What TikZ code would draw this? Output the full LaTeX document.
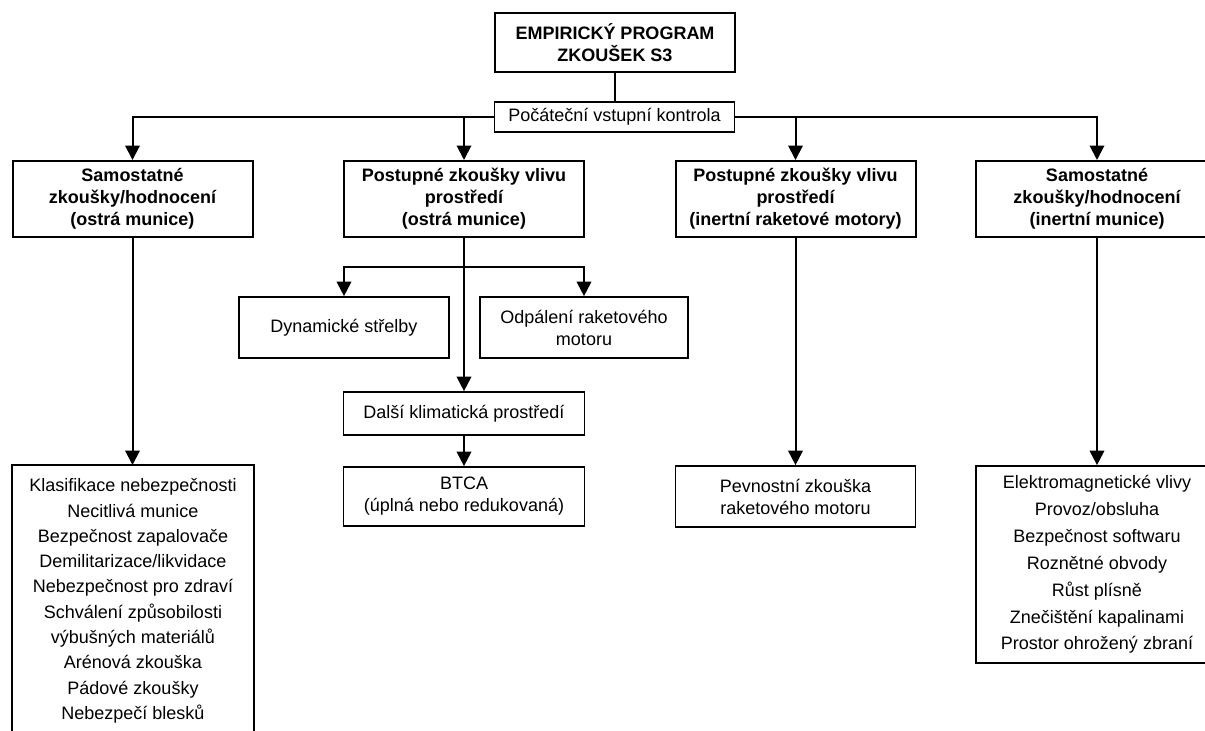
\documentclass[tikz,border=0pt]{standalone}
\usepackage{fontspec}
\setmainfont{Liberation Sans}
\usetikzlibrary{arrows.meta}
\begin{document}
\begin{tikzpicture}[x=1pt,y=-1pt,
  box/.style={draw, line width=1.7pt, align=center, inner sep=0pt,
    font=\fontsize{18}{22}\selectfont},
  headbox/.style={box, line width=2pt,
    font=\bfseries\fontsize{18}{22}\selectfont},
  listbox/.style={box, font=\fontsize{18}{26.9}\selectfont},
  arr/.style={line width=2pt, -{Triangle[width=14.5pt,length=14.5pt]}},
  link/.style={line width=1.5pt},
]
\useasboundingbox (0,0) rectangle (1205,731);
\clip (0,0) rectangle (1205,731);
\fill[white] (0,0) rectangle (1205,731);

% root and entry check
\node[headbox, line width=2.2pt, minimum width=240pt, minimum height=59pt] (top) at (615,42.5)
  {EMPIRICKÝ PROGRAM\\ZKOUŠEK S3};
\node[box, line width=1.5pt, minimum width=240pt, minimum height=30pt] (pock) at (614.5,117)
  {Počáteční vstupní kontrola};

% four branches
\node[headbox, minimum width=240pt, minimum height=76pt] (b1) at (132.5,199)
  {Samostatné\\zkoušky/hodnocení\\(ostrá munice)};
\node[headbox, minimum width=240pt, minimum height=76pt] (b2) at (464,199)
  {Postupné zkoušky vlivu\\prostředí\\(ostrá munice)};
\node[headbox, minimum width=240pt, minimum height=76pt] (b3) at (795.5,199)
  {Postupné zkoušky vlivu\\prostředí\\(inertní raketové motory)};
\node[headbox, minimum width=242pt, minimum height=76pt] (b4) at (1097,199)
  {Samostatné\\zkoušky/hodnocení\\(inertní munice)};

% second branch details
\node[box, minimum width=210pt, minimum height=61pt] (dyn) at (344,327.5)
  {Dynamické střelby};
\node[box, minimum width=208pt, minimum height=61pt] (odp) at (584,327.5)
  {Odpálení raketového\\motoru};
\node[box, minimum width=241pt, minimum height=43pt] (dalsi) at (464,413.5)
  {Další klimatická prostředí};
\node[box, minimum width=241pt, minimum height=59pt] (btca) at (464,496.5)
  {BTCA\\(úplná nebo redukovaná)};

% third branch detail
\node[box, minimum width=240pt, minimum height=61pt] (pev) at (795.5,496.5)
  {Pevnostní zkouška\\raketového motoru};

% fourth branch list
\node[listbox, minimum width=242pt, minimum height=197pt] (elek) at (1097,564.5)
  {Elektromagnetické vlivy\\Provoz/obsluha\\Bezpečnost softwaru\\Roznětné obvody\\Růst plísně\\Znečištění kapalinami\\Prostor ohrožený zbraní};

% first branch list, running off the lower edge
\node[align=center, inner xsep=0pt, inner ysep=13.4pt, minimum width=242pt, anchor=north,
  font=\fontsize{18}{25.3}\selectfont] (klas) at (133,465)
  {Klasifikace nebezpečnosti\\Necitlivá munice\\Bezpečnost zapalovače\\Demilitarizace/likvidace\\Nebezpečnost pro zdraví\\Schválení způsobilosti\\výbušných materiálů\\Arénová zkouška\\Pádové zkoušky\\Nebezpečí blesků};
\draw[line width=1.7pt] (klas.north west) rectangle ++(242,300);

% connectors
\draw[link] (top.south) -- (top.south |- pock.north);
\draw[arr] (pock.west) -| (b1.north);
\draw[arr] (pock.west -| b2.north) -- (b2.north);
\draw[arr] (pock.east) -| (b4.north);
\draw[arr] (pock.east -| b3.north) -- (b3.north);

\draw[arr] (b1.south) -- (b1.south |- klas.north);

\coordinate (fork) at (b2.south |- 0,267);
\draw[link] (b2.south) -- (fork);
\draw[arr] (fork) -| (dyn.north);
\draw[arr] (fork) -| (odp.north);
\draw[arr] (fork) -- (fork |- dalsi.north);
\draw[arr] (dalsi.south) -- (dalsi.south |- btca.north);

\draw[arr] (b3.south) -- (b3.south |- pev.north);
\draw[arr] (b4.south) -- (b4.south |- elek.north);
\end{tikzpicture}
\end{document}
